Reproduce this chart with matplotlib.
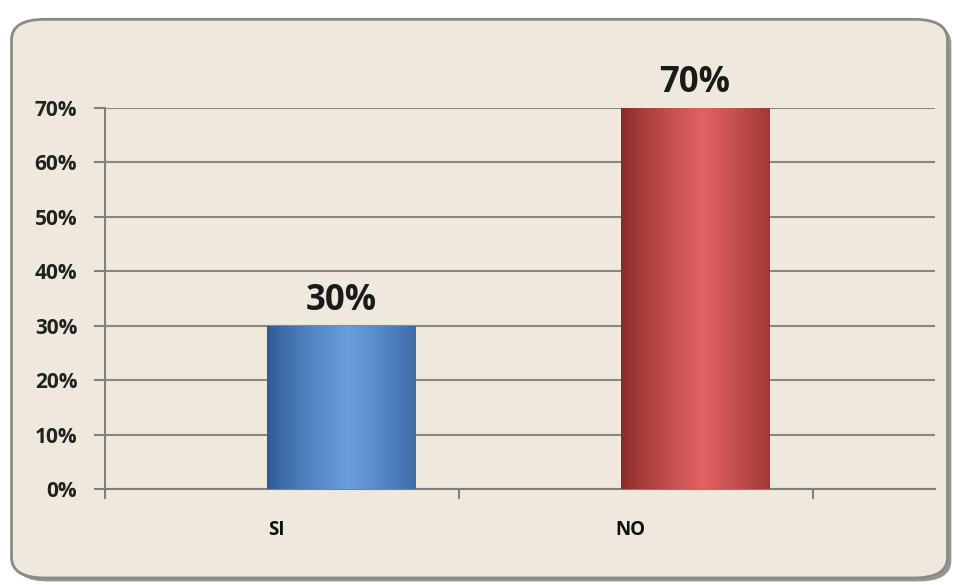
import matplotlib.pyplot as plt
import numpy as np
from matplotlib.patches import FancyBboxPatch

categories = ['SI', 'NO']
values = [0.30, 0.70]
labels = ['30%', '70%']
yticks = [0, 0.1, 0.2, 0.3, 0.4, 0.5, 0.6, 0.7]
ytick_labels = ['0%', '10%', '20%', '30%', '40%', '50%', '60%', '70%']

plt.rcParams['font.family'] = ['Open Sans', 'DejaVu Sans']

fig = plt.figure(figsize=(9.59, 5.85), dpi=100)
fig.patch.set_facecolor('white')

# rounded frame with a soft shadow
shadow = FancyBboxPatch((0.016, 0.006), 0.976, 0.955, boxstyle='round,pad=0,rounding_size=0.035',
                        transform=fig.transFigure, facecolor='#9a968f', edgecolor='none', zorder=0)
frame = FancyBboxPatch((0.012, 0.012), 0.976, 0.955, boxstyle='round,pad=0,rounding_size=0.035',
                       transform=fig.transFigure, facecolor='#eee8dd', edgecolor='#8c8a86',
                       linewidth=2, zorder=1)
fig.patches.extend([shadow, frame])

ax = fig.add_axes([0.1095, 0.164, 0.8655, 0.6514])
ax.set_facecolor('none')
ax.set_zorder(2)

x = np.arange(len(categories))
width = 0.42
offset = 0.167  # bars sit right of the category centre
grads = [('#2d5a92', '#6b9ee0'), ('#8a2828', '#e26262')]

# gradient filled bars
for xi, v, (dark, light) in zip(x + offset, values, grads):
    bar = ax.bar(xi, v, width, color='none', edgecolor='none', zorder=3)[0]
    t = np.linspace(0, 1, 200)
    prof = np.clip(1 - np.abs(t - 0.55) / 0.55, 0, 1) ** 0.8
    c0 = np.array(plt.matplotlib.colors.to_rgb(dark))
    c1 = np.array(plt.matplotlib.colors.to_rgb(light))
    img = c0[None, None, :] + (c1 - c0)[None, None, :] * prof[None, :, None]
    im = ax.imshow(img, extent=[xi - width / 2, xi + width / 2, 0, v], aspect='auto', zorder=3)
    im.set_clip_path(bar)

for xi, v, lab in zip(x + offset, values, labels):
    ax.text(xi, v + 0.012, lab, ha='center', va='bottom', fontsize=25, fontweight='bold', color='#1a1a1a', zorder=4)

ax.set_xlim(-0.5, 1.845)
ax.set_ylim(0, 0.7)
ax.set_yticks(yticks)
ax.set_yticklabels(ytick_labels, fontsize=15, fontweight='bold', color='#222222')
ax.set_xticks([-0.5, 0.5, 1.5])
ax.set_xticklabels([])
ax.set_xticks(x - 0.015, minor=True)
ax.set_xticklabels(categories, minor=True, fontsize=13.5, fontweight='bold', color='#111111')
ax.tick_params(axis='x', which='minor', length=0, pad=22)
ax.tick_params(axis='x', which='major', length=7, width=1.5, color='#7f7f7f', direction='out')
ax.tick_params(axis='y', length=8, width=1.5, color='#7f7f7f', pad=12)

ax.grid(axis='y', color='#8a8680', linewidth=1.5, zorder=1)
ax.set_axisbelow(True)
for s in ['top', 'right']:
    ax.spines[s].set_visible(False)
for s in ['left', 'bottom']:
    ax.spines[s].set_color('#7f7f7f')
    ax.spines[s].set_linewidth(1.5)

fig.savefig('out.png', dpi=100)
